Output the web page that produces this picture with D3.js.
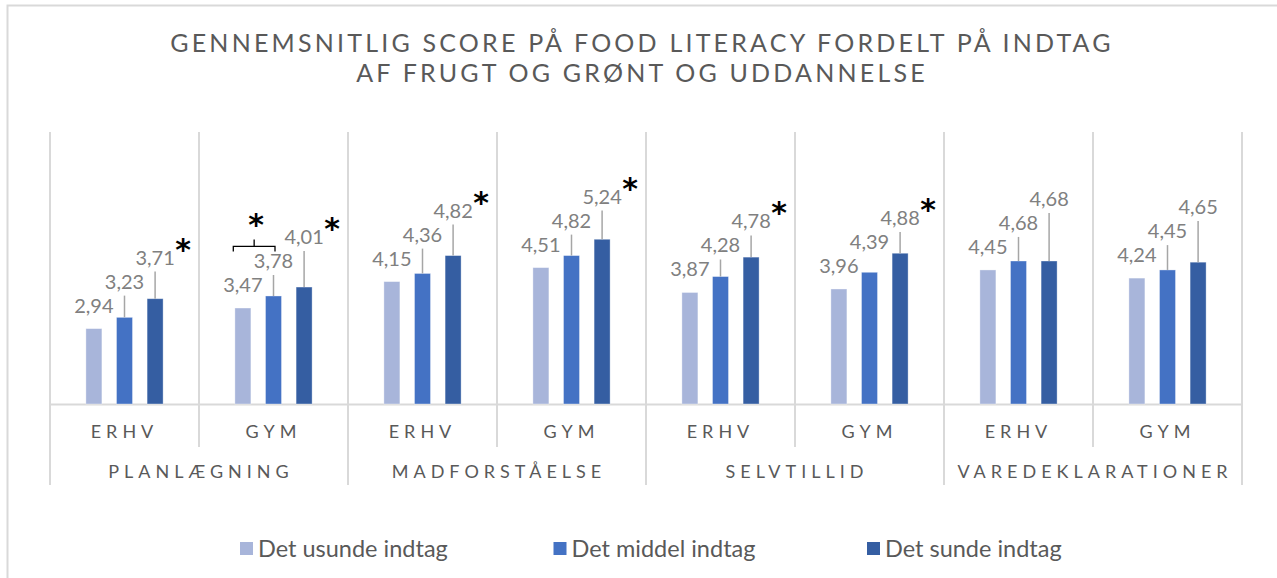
<!DOCTYPE html>
<html>
<head>
<meta charset="utf-8">
<script src="https://cdn.jsdelivr.net/npm/d3@7"></script>
<style>
  body { margin: 0; background: #fff; }
  svg { display: block; font-family: Lato, 'Open Sans', sans-serif; }
</style>
</head>
<body>
<script>
// chart data
var groups = ['PLANLÆGNING', 'MADFORSTÅELSE', 'SELVTILLID', 'VAREDEKLARATIONER'];
var schools = ['ERHV', 'GYM'];
var seriesNames = ['Det usunde indtag', 'Det middel indtag', 'Det sunde indtag'];
var usunde = [2.94, 3.47, 4.15, 4.51, 3.87, 3.96, 4.45, 4.24];
var middel = [3.23, 3.78, 4.36, 4.82, 4.28, 4.39, 4.68, 4.45];
var sunde  = [3.71, 4.01, 4.82, 5.24, 4.78, 4.88, 4.68, 4.65];
// significant trend (star over the sunde label) and significant pairs (bracket)
var trendSignificant = [true, true, true, true, true, true, false, false];
var pairSignificant = [{ index: 1, from: 0, to: 1 }];
var titleLines = ['GENNEMSNITLIG SCORE PÅ FOOD LITERACY FORDELT PÅ INDTAG', 'AF FRUGT OG GRØNT OG UDDANNELSE'];

var colors = ['#a8b5da', '#4472c4', '#355ea2'];
var W = 1277, H = 578;

var svg = d3.select('body').append('svg')
    .attr('width', W)
    .attr('height', H);

// outer chart border (right and bottom edge fall off the picture)
svg.append('rect')
    .attr('x', 7.5).attr('y', 5.5)
    .attr('width', 1290).attr('height', 600)
    .attr('fill', '#fff')
    .attr('stroke', '#d9d9d9')
    .attr('stroke-width', 2);

// title
svg.append('g').selectAll('text')
    .data(titleLines)
    .enter().append('text')
    .attr('x', 642)
    .attr('y', function(d, i) { return 52 + i * 30; })
    .attr('text-anchor', 'middle')
    .attr('fill', '#595959')
    .style('font-size', '25px')
    .style('letter-spacing', '3.2px')
    .text(function(d) { return d; });

// one entry per sub-category
var cats = [];
groups.forEach(function(g, gi) {
    schools.forEach(function(s, si) {
        var i = gi * schools.length + si;
        cats.push({ key: g + '|' + s, group: g, school: s, i: i,
            values: [usunde[i], middel[i], sunde[i]] });
    });
});

var x0 = d3.scaleBand()
    .domain(cats.map(function(d) { return d.key; }))
    .range([50, 1242]);
var x1 = d3.scaleBand()
    .domain([0, 1, 2])
    .range([0, x0.bandwidth()])
    .paddingInner(0.477)
    .paddingOuter(1.173);
var y = d3.scaleLinear().domain([1, 8]).range([404, 132]);

var grid = '#d9d9d9';
var bounds = cats.map(function(d) { return x0(d.key); }).concat([x0.range()[1]]);

// vertical gridlines in the plot
svg.append('g').selectAll('line')
    .data(bounds)
    .enter().append('line')
    .attr('x1', function(d) { return d; })
    .attr('x2', function(d) { return d; })
    .attr('y1', y(8))
    .attr('y2', function(d, i) { return i % 2 === 0 ? 485 : 447; })
    .attr('stroke', grid)
    .attr('stroke-width', 2);

// sub-category labels through a bottom axis
var xAxis = d3.axisBottom(x0)
    .tickSize(0)
    .tickPadding(0)
    .tickFormat(function(k) { return k.split('|')[1]; });
var ax = svg.append('g')
    .attr('transform', 'translate(0,' + y(1) + ')')
    .call(xAxis);
ax.select('.domain').attr('stroke', grid).attr('stroke-width', 2);
ax.selectAll('text')
    .attr('dy', null)
    .attr('y', 34)
    .attr('fill', '#595959')
    .style('font-family', 'Lato, sans-serif')
    .style('font-size', '18px')
    .style('letter-spacing', '5px');

// group labels
svg.append('g').selectAll('text')
    .data(groups)
    .enter().append('text')
    .attr('x', function(g) { return (x0(g + '|ERHV') + x0(g + '|GYM') + x0.bandwidth()) / 2 + 2; })
    .attr('y', 478)
    .attr('text-anchor', 'middle')
    .attr('fill', '#595959')
    .style('font-size', '18px')
    .style('letter-spacing', '5px')
    .text(function(d) { return d; });

// bars
var cg = svg.append('g').selectAll('g')
    .data(cats)
    .enter().append('g')
    .attr('transform', function(d) { return 'translate(' + x0(d.key) + ',0)'; });

cg.selectAll('rect')
    .data(function(d) { return d.values; })
    .enter().append('rect')
    .attr('x', function(d, j) { return x1(j); })
    .attr('y', function(d) { return y(d); })
    .attr('width', x1.bandwidth())
    .attr('height', function(d) { return y(1) - y(d); })
    .attr('fill', function(d, j) { return colors[j]; })
    .attr('stroke', '#fff')
    .attr('stroke-opacity', 0.45)
    .attr('stroke-width', 0.8);

// data labels: stacked so they don't collide, leader line when lifted far
var fmt = d3.formatLocale({ decimal: ',', thousands: '.', grouping: [3], currency: ['', ' kr'] }).format('.2f');
cats.forEach(function(c) {
    var prev = null;
    c.labels = c.values.map(function(v, j) {
        var base = y(v) - 16;
        if (prev !== null) base = Math.min(base, prev - 24);
        prev = base;
        return { v: v, j: j, cx: x1(j) + x1.bandwidth() / 2, base: base };
    });
});

cg.selectAll('line.leader')
    .data(function(d) { return d.labels.filter(function(l) { return y(l.v) - l.base > 23.7; }); })
    .enter().append('line')
    .attr('class', 'leader')
    .attr('x1', function(l) { return l.cx; })
    .attr('x2', function(l) { return l.cx; })
    .attr('y1', function(l) { return l.base + 7; })
    .attr('y2', function(l) { return y(l.v); })
    .attr('stroke', '#a6a6a6')
    .attr('stroke-width', 1.5);

cg.selectAll('text.val')
    .data(function(d) { return d.labels; })
    .enter().append('text')
    .attr('class', 'val')
    .attr('x', function(l) { return l.cx; })
    .attr('y', function(l) { return l.base; })
    .attr('text-anchor', 'middle')
    .attr('fill', '#808080')
    .style('font-size', '20px')
    .text(function(l) { return fmt(l.v); });

// significance stars next to the sunde label
cg.filter(function(d) { return trendSignificant[d.i]; })
    .append('text')
    .attr('x', function(d) { return d.labels[2].cx + 28; })
    .attr('y', function(d) { return d.labels[2].base - 5; })
    .attr('text-anchor', 'middle')
    .attr('fill', '#000')
    .style('font-family', 'DejaVu Sans, sans-serif')
    .style('font-weight', 'bold')
    .style('font-size', '30px')
    .text('*');

// bracket + star for significant pairs
pairSignificant.forEach(function(p) {
    var c = cats[p.index];
    var a = x0(c.key) + c.labels[p.from].cx - 9.6;
    var b = x0(c.key) + c.labels[p.to].cx + 1.5;
    var by = c.labels[p.to].base - 21.6;
    var m = (a + b) / 2;
    svg.append('path')
        .attr('d', 'M' + a + ',' + (by + 5) + 'V' + by + 'H' + b + 'V' + (by + 5) + 'M' + m + ',' + by + 'V' + (by - 7))
        .attr('fill', 'none')
        .attr('stroke', '#000')
        .attr('stroke-width', 1.3);
    svg.append('text')
        .attr('x', m + 2)
        .attr('y', by - 11)
        .attr('text-anchor', 'middle')
        .style('font-family', 'DejaVu Sans, sans-serif')
        .style('font-weight', 'bold')
        .style('font-size', '30px')
        .text('*');
});

// legend
var leg = svg.append('g').selectAll('g')
    .data(seriesNames)
    .enter().append('g')
    .attr('transform', function(d, i) { return 'translate(' + (240 + i * 313.5) + ',549)'; });
leg.append('rect')
    .attr('x', 0).attr('y', -7)
    .attr('width', 13).attr('height', 13)
    .attr('fill', function(d, i) { return colors[i]; });
leg.append('text')
    .attr('x', 18)
    .attr('y', 8)
    .attr('fill', '#595959')
    .style('font-size', '23.5px')
    .text(function(d) { return d; });
</script>
</body>
</html>
